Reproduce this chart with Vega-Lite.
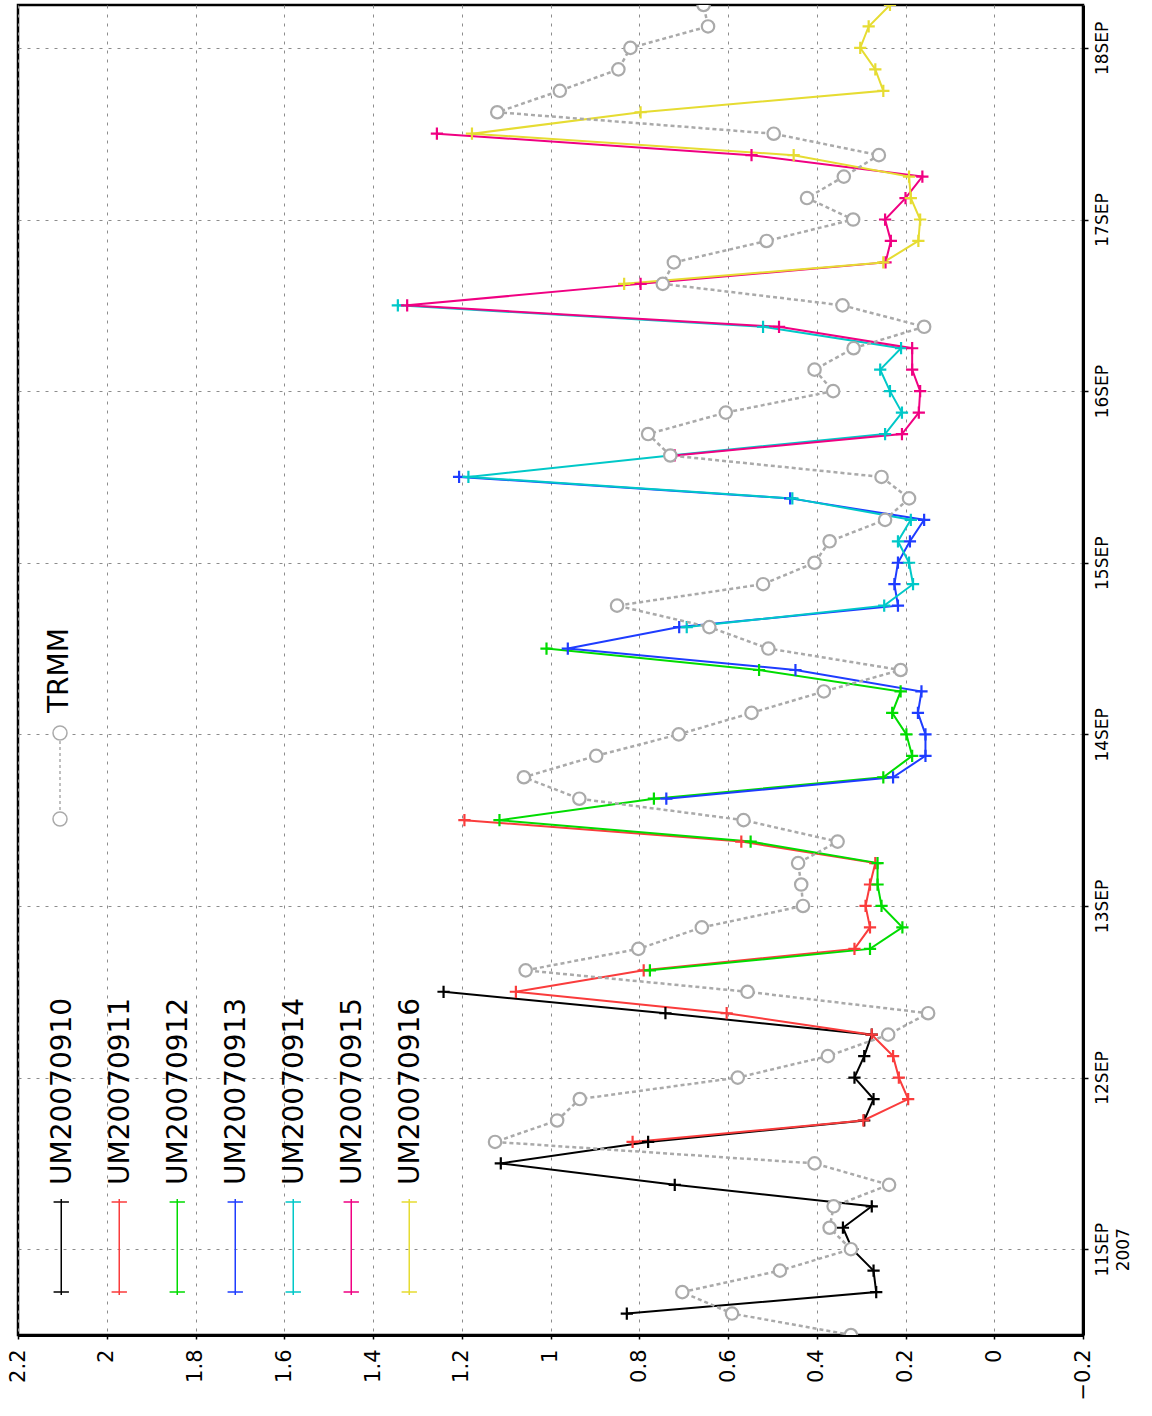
{
  "$schema": "https://vega.github.io/schema/vega-lite/v6.json",
  "width": 1065,
  "height": 1330,
  "autosize": {"type": "none"},
  "padding": {"left": 18, "top": 5, "right": 69, "bottom": 81},
  "background": "white",
  "datasets": {
    "um": [
      {"s":"UM20070910","t":"2007-09-10T15:00Z","v":0.828},
      {"s":"UM20070910","t":"2007-09-10T18:00Z","v":0.266},
      {"s":"UM20070910","t":"2007-09-10T21:00Z","v":0.272},
      {"s":"UM20070910","t":"2007-09-11T00:00Z","v":0.32},
      {"s":"UM20070910","t":"2007-09-11T03:00Z","v":0.341},
      {"s":"UM20070910","t":"2007-09-11T06:00Z","v":0.276},
      {"s":"UM20070910","t":"2007-09-11T09:00Z","v":0.72},
      {"s":"UM20070910","t":"2007-09-11T12:00Z","v":1.112},
      {"s":"UM20070910","t":"2007-09-11T15:00Z","v":0.78},
      {"s":"UM20070910","t":"2007-09-11T18:00Z","v":0.293},
      {"s":"UM20070910","t":"2007-09-11T21:00Z","v":0.272},
      {"s":"UM20070910","t":"2007-09-12T00:00Z","v":0.315},
      {"s":"UM20070910","t":"2007-09-12T03:00Z","v":0.293},
      {"s":"UM20070910","t":"2007-09-12T06:00Z","v":0.276},
      {"s":"UM20070910","t":"2007-09-12T09:00Z","v":0.741},
      {"s":"UM20070910","t":"2007-09-12T12:00Z","v":1.241},
      {"s":"UM20070911","t":"2007-09-11T15:00Z","v":0.815},
      {"s":"UM20070911","t":"2007-09-11T18:00Z","v":0.295},
      {"s":"UM20070911","t":"2007-09-11T21:00Z","v":0.194},
      {"s":"UM20070911","t":"2007-09-12T00:00Z","v":0.215},
      {"s":"UM20070911","t":"2007-09-12T03:00Z","v":0.228},
      {"s":"UM20070911","t":"2007-09-12T06:00Z","v":0.276},
      {"s":"UM20070911","t":"2007-09-12T09:00Z","v":0.603},
      {"s":"UM20070911","t":"2007-09-12T12:00Z","v":1.078},
      {"s":"UM20070911","t":"2007-09-12T15:00Z","v":0.79},
      {"s":"UM20070911","t":"2007-09-12T18:00Z","v":0.315},
      {"s":"UM20070911","t":"2007-09-12T21:00Z","v":0.28},
      {"s":"UM20070911","t":"2007-09-13T00:00Z","v":0.29},
      {"s":"UM20070911","t":"2007-09-13T03:00Z","v":0.28},
      {"s":"UM20070911","t":"2007-09-13T06:00Z","v":0.268},
      {"s":"UM20070911","t":"2007-09-13T09:00Z","v":0.57},
      {"s":"UM20070911","t":"2007-09-13T12:00Z","v":1.194},
      {"s":"UM20070912","t":"2007-09-12T15:00Z","v":0.776},
      {"s":"UM20070912","t":"2007-09-12T18:00Z","v":0.28},
      {"s":"UM20070912","t":"2007-09-12T21:00Z","v":0.207},
      {"s":"UM20070912","t":"2007-09-13T00:00Z","v":0.254},
      {"s":"UM20070912","t":"2007-09-13T03:00Z","v":0.263},
      {"s":"UM20070912","t":"2007-09-13T06:00Z","v":0.263},
      {"s":"UM20070912","t":"2007-09-13T09:00Z","v":0.549},
      {"s":"UM20070912","t":"2007-09-13T12:00Z","v":1.115},
      {"s":"UM20070912","t":"2007-09-13T15:00Z","v":0.767},
      {"s":"UM20070912","t":"2007-09-13T18:00Z","v":0.25},
      {"s":"UM20070912","t":"2007-09-13T21:00Z","v":0.185},
      {"s":"UM20070912","t":"2007-09-14T00:00Z","v":0.198},
      {"s":"UM20070912","t":"2007-09-14T03:00Z","v":0.23},
      {"s":"UM20070912","t":"2007-09-14T06:00Z","v":0.211},
      {"s":"UM20070912","t":"2007-09-14T09:00Z","v":0.53},
      {"s":"UM20070912","t":"2007-09-14T12:00Z","v":1.009},
      {"s":"UM20070913","t":"2007-09-13T15:00Z","v":0.739},
      {"s":"UM20070913","t":"2007-09-13T18:00Z","v":0.228},
      {"s":"UM20070913","t":"2007-09-13T21:00Z","v":0.155},
      {"s":"UM20070913","t":"2007-09-14T00:00Z","v":0.155},
      {"s":"UM20070913","t":"2007-09-14T03:00Z","v":0.172},
      {"s":"UM20070913","t":"2007-09-14T06:00Z","v":0.164},
      {"s":"UM20070913","t":"2007-09-14T09:00Z","v":0.448},
      {"s":"UM20070913","t":"2007-09-14T12:00Z","v":0.961},
      {"s":"UM20070913","t":"2007-09-14T15:00Z","v":0.71},
      {"s":"UM20070913","t":"2007-09-14T18:00Z","v":0.217},
      {"s":"UM20070913","t":"2007-09-14T21:00Z","v":0.225},
      {"s":"UM20070913","t":"2007-09-15T00:00Z","v":0.217},
      {"s":"UM20070913","t":"2007-09-15T03:00Z","v":0.19},
      {"s":"UM20070913","t":"2007-09-15T06:00Z","v":0.158},
      {"s":"UM20070913","t":"2007-09-15T09:00Z","v":0.46},
      {"s":"UM20070913","t":"2007-09-15T12:00Z","v":1.206},
      {"s":"UM20070914","t":"2007-09-14T15:00Z","v":0.693},
      {"s":"UM20070914","t":"2007-09-14T18:00Z","v":0.248},
      {"s":"UM20070914","t":"2007-09-14T21:00Z","v":0.183},
      {"s":"UM20070914","t":"2007-09-15T00:00Z","v":0.192},
      {"s":"UM20070914","t":"2007-09-15T03:00Z","v":0.217},
      {"s":"UM20070914","t":"2007-09-15T06:00Z","v":0.188},
      {"s":"UM20070914","t":"2007-09-15T09:00Z","v":0.455},
      {"s":"UM20070914","t":"2007-09-15T12:00Z","v":1.185},
      {"s":"UM20070914","t":"2007-09-15T15:00Z","v":0.73},
      {"s":"UM20070914","t":"2007-09-15T18:00Z","v":0.246},
      {"s":"UM20070914","t":"2007-09-15T21:00Z","v":0.208},
      {"s":"UM20070914","t":"2007-09-16T00:00Z","v":0.235},
      {"s":"UM20070914","t":"2007-09-16T03:00Z","v":0.257},
      {"s":"UM20070914","t":"2007-09-16T06:00Z","v":0.21},
      {"s":"UM20070914","t":"2007-09-16T09:00Z","v":0.521},
      {"s":"UM20070914","t":"2007-09-16T12:00Z","v":1.344},
      {"s":"UM20070915","t":"2007-09-15T15:00Z","v":0.72},
      {"s":"UM20070915","t":"2007-09-15T18:00Z","v":0.208},
      {"s":"UM20070915","t":"2007-09-15T21:00Z","v":0.17},
      {"s":"UM20070915","t":"2007-09-16T00:00Z","v":0.167},
      {"s":"UM20070915","t":"2007-09-16T03:00Z","v":0.185},
      {"s":"UM20070915","t":"2007-09-16T06:00Z","v":0.185},
      {"s":"UM20070915","t":"2007-09-16T09:00Z","v":0.485},
      {"s":"UM20070915","t":"2007-09-16T12:00Z","v":1.323},
      {"s":"UM20070915","t":"2007-09-16T15:00Z","v":0.797},
      {"s":"UM20070915","t":"2007-09-16T18:00Z","v":0.245},
      {"s":"UM20070915","t":"2007-09-16T21:00Z","v":0.233},
      {"s":"UM20070915","t":"2007-09-17T00:00Z","v":0.246},
      {"s":"UM20070915","t":"2007-09-17T03:00Z","v":0.2},
      {"s":"UM20070915","t":"2007-09-17T06:00Z","v":0.162},
      {"s":"UM20070915","t":"2007-09-17T09:00Z","v":0.547},
      {"s":"UM20070915","t":"2007-09-17T12:00Z","v":1.256},
      {"s":"UM20070916","t":"2007-09-16T15:00Z","v":0.834},
      {"s":"UM20070916","t":"2007-09-16T18:00Z","v":0.25},
      {"s":"UM20070916","t":"2007-09-16T21:00Z","v":0.171},
      {"s":"UM20070916","t":"2007-09-17T00:00Z","v":0.167},
      {"s":"UM20070916","t":"2007-09-17T03:00Z","v":0.188},
      {"s":"UM20070916","t":"2007-09-17T06:00Z","v":0.192},
      {"s":"UM20070916","t":"2007-09-17T09:00Z","v":0.452},
      {"s":"UM20070916","t":"2007-09-17T12:00Z","v":1.177},
      {"s":"UM20070916","t":"2007-09-17T15:00Z","v":0.797},
      {"s":"UM20070916","t":"2007-09-17T18:00Z","v":0.25},
      {"s":"UM20070916","t":"2007-09-17T21:00Z","v":0.268},
      {"s":"UM20070916","t":"2007-09-18T00:00Z","v":0.302},
      {"s":"UM20070916","t":"2007-09-18T03:00Z","v":0.283},
      {"s":"UM20070916","t":"2007-09-18T06:00Z","v":0.235}
    ],
    "trmm": [
      {"s":"TRMM","t":"2007-09-10T12:00Z","v":0.323},
      {"s":"TRMM","t":"2007-09-10T15:00Z","v":0.591},
      {"s":"TRMM","t":"2007-09-10T18:00Z","v":0.703},
      {"s":"TRMM","t":"2007-09-10T21:00Z","v":0.483},
      {"s":"TRMM","t":"2007-09-11T00:00Z","v":0.323},
      {"s":"TRMM","t":"2007-09-11T03:00Z","v":0.371},
      {"s":"TRMM","t":"2007-09-11T06:00Z","v":0.362},
      {"s":"TRMM","t":"2007-09-11T09:00Z","v":0.237},
      {"s":"TRMM","t":"2007-09-11T12:00Z","v":0.405},
      {"s":"TRMM","t":"2007-09-11T15:00Z","v":1.125},
      {"s":"TRMM","t":"2007-09-11T18:00Z","v":0.985},
      {"s":"TRMM","t":"2007-09-11T21:00Z","v":0.934},
      {"s":"TRMM","t":"2007-09-12T00:00Z","v":0.578},
      {"s":"TRMM","t":"2007-09-12T03:00Z","v":0.375},
      {"s":"TRMM","t":"2007-09-12T06:00Z","v":0.239},
      {"s":"TRMM","t":"2007-09-12T09:00Z","v":0.149},
      {"s":"TRMM","t":"2007-09-12T12:00Z","v":0.556},
      {"s":"TRMM","t":"2007-09-12T15:00Z","v":1.056},
      {"s":"TRMM","t":"2007-09-12T18:00Z","v":0.802},
      {"s":"TRMM","t":"2007-09-12T21:00Z","v":0.659},
      {"s":"TRMM","t":"2007-09-13T00:00Z","v":0.431},
      {"s":"TRMM","t":"2007-09-13T03:00Z","v":0.435},
      {"s":"TRMM","t":"2007-09-13T06:00Z","v":0.442},
      {"s":"TRMM","t":"2007-09-13T09:00Z","v":0.353},
      {"s":"TRMM","t":"2007-09-13T12:00Z","v":0.565},
      {"s":"TRMM","t":"2007-09-13T15:00Z","v":0.935},
      {"s":"TRMM","t":"2007-09-13T18:00Z","v":1.06},
      {"s":"TRMM","t":"2007-09-13T21:00Z","v":0.897},
      {"s":"TRMM","t":"2007-09-14T00:00Z","v":0.711},
      {"s":"TRMM","t":"2007-09-14T03:00Z","v":0.547},
      {"s":"TRMM","t":"2007-09-14T06:00Z","v":0.384},
      {"s":"TRMM","t":"2007-09-14T09:00Z","v":0.211},
      {"s":"TRMM","t":"2007-09-14T12:00Z","v":0.509},
      {"s":"TRMM","t":"2007-09-14T15:00Z","v":0.642},
      {"s":"TRMM","t":"2007-09-14T18:00Z","v":0.85},
      {"s":"TRMM","t":"2007-09-14T21:00Z","v":0.521},
      {"s":"TRMM","t":"2007-09-15T00:00Z","v":0.405},
      {"s":"TRMM","t":"2007-09-15T03:00Z","v":0.371},
      {"s":"TRMM","t":"2007-09-15T06:00Z","v":0.246},
      {"s":"TRMM","t":"2007-09-15T09:00Z","v":0.192},
      {"s":"TRMM","t":"2007-09-15T12:00Z","v":0.254},
      {"s":"TRMM","t":"2007-09-15T15:00Z","v":0.73},
      {"s":"TRMM","t":"2007-09-15T18:00Z","v":0.78},
      {"s":"TRMM","t":"2007-09-15T21:00Z","v":0.605},
      {"s":"TRMM","t":"2007-09-16T00:00Z","v":0.363},
      {"s":"TRMM","t":"2007-09-16T03:00Z","v":0.405},
      {"s":"TRMM","t":"2007-09-16T06:00Z","v":0.317},
      {"s":"TRMM","t":"2007-09-16T09:00Z","v":0.158},
      {"s":"TRMM","t":"2007-09-16T12:00Z","v":0.342},
      {"s":"TRMM","t":"2007-09-16T15:00Z","v":0.747},
      {"s":"TRMM","t":"2007-09-16T18:00Z","v":0.722},
      {"s":"TRMM","t":"2007-09-16T21:00Z","v":0.513},
      {"s":"TRMM","t":"2007-09-17T00:00Z","v":0.318},
      {"s":"TRMM","t":"2007-09-17T03:00Z","v":0.422},
      {"s":"TRMM","t":"2007-09-17T06:00Z","v":0.339},
      {"s":"TRMM","t":"2007-09-17T09:00Z","v":0.26},
      {"s":"TRMM","t":"2007-09-17T12:00Z","v":0.497},
      {"s":"TRMM","t":"2007-09-17T15:00Z","v":1.12},
      {"s":"TRMM","t":"2007-09-17T18:00Z","v":0.979},
      {"s":"TRMM","t":"2007-09-17T21:00Z","v":0.847},
      {"s":"TRMM","t":"2007-09-18T00:00Z","v":0.82},
      {"s":"TRMM","t":"2007-09-18T03:00Z","v":0.645},
      {"s":"TRMM","t":"2007-09-18T06:00Z","v":0.655}
    ]
  },
  "encoding": {
    "x": {
      "field": "v", "type": "quantitative",
      "scale": {"domain": [-0.2, 2.2], "reverse": true, "nice": false, "zero": false},
      "axis": {
        "orient": "bottom", "title": null,
        "values": [-0.2, 0, 0.2, 0.4, 0.6, 0.8, 1, 1.2, 1.4, 1.6, 1.8, 2, 2.2],
        "format": ".1~f",
        "labelAngle": 270, "labelAlign": "right", "labelBaseline": "middle",
        "labelFontSize": 21, "labelPadding": 10, "tickSize": 4,
        "grid": true, "labelOverlap": false, "labelFlush": false, "labelBound": false
      }
    },
    "y": {
      "field": "t", "type": "temporal",
      "scale": {"type": "utc", "domain": [
        {"year": 2007, "month": 9, "date": 10, "hours": 12, "utc": true},
        {"year": 2007, "month": 9, "date": 18, "hours": 6, "utc": true}
      ]},
      "axis": {
        "orient": "right", "title": null,
        "values": [
          {"year": 2007, "month": 9, "date": 11, "utc": true},
          {"year": 2007, "month": 9, "date": 12, "utc": true},
          {"year": 2007, "month": 9, "date": 13, "utc": true},
          {"year": 2007, "month": 9, "date": 14, "utc": true},
          {"year": 2007, "month": 9, "date": 15, "utc": true},
          {"year": 2007, "month": 9, "date": 16, "utc": true},
          {"year": 2007, "month": 9, "date": 17, "utc": true},
          {"year": 2007, "month": 9, "date": 18, "utc": true}
        ],
        "labelExpr": "utcdate(datum.value) == 11 ? ['11SEP', '2007'] : utcdate(datum.value) + 'SEP'",
        "labelAngle": 270, "labelAlign": "center", "labelBaseline": "top",
        "labelFontSize": 17, "labelLineHeight": 21, "labelPadding": 6, "tickSize": 5,
        "grid": true, "labelOverlap": false, "labelFlush": false, "labelBound": false
      }
    },
    "order": {"field": "t", "type": "temporal"}
  },
  "layer": [
    {
      "data": {"name": "um"},
      "mark": {
        "type": "line", "strokeWidth": 2, "clip": true,
        "point": {"shape": "M-1,0L1,0M0,-1L0,1", "filled": false, "size": 150, "strokeWidth": 2.2, "clip": true}
      },
      "encoding": {
        "color": {
          "field": "s", "type": "nominal",
          "scale": {
            "domain": ["UM20070910", "UM20070911", "UM20070912", "UM20070913", "UM20070914", "UM20070915", "UM20070916"],
            "range": ["#000000", "#fa3c3c", "#00dc00", "#1e3cff", "#00c8c8", "#f00082", "#e6dc32"]
          },
          "legend": {
            "orient": "none", "legendX": 29.25, "legendY": 1228,
            "direction": "horizontal", "title": null, "padding": 0,
            "symbolType": "M0,-4L0,4M-0.64,-3.76L0.64,-3.76M-0.64,3.76L0.64,3.76",
            "symbolSize": 576, "symbolStrokeWidth": 1.5, "symbolOffset": 0,
            "labelFont": "DejaVu Sans", "labelFontSize": 28, "labelLimit": 600, "labelOffset": 0,
            "labelColor": "black", "columnPadding": 28,
            "encode": {
              "labels": {"update": {
                "angle": {"value": -90}, "dx": {"value": 62}, "dy": {"value": -12.75},
                "align": {"value": "left"}, "baseline": {"value": "middle"}
              }}
            }
          }
        }
      }
    },
    {
      "data": {"name": "trmm"},
      "mark": {
        "type": "line", "stroke": "#aaaaaa", "strokeWidth": 2.5, "strokeDash": [4, 3], "clip": true,
        "point": {"shape": "circle", "filled": true, "fill": "white", "stroke": "#aaaaaa", "strokeWidth": 2.2, "size": 154, "clip": true}
      },
      "encoding": {
        "opacity": {
          "field": "s", "type": "nominal",
          "scale": {"domain": ["TRMM"], "range": [1]},
          "legend": {
            "orient": "none", "legendX": -9, "legendY": 720, "title": null, "padding": 0,
            "symbolType": "M0.14,-0.86A0.14,0.14 0 1 1 -0.14,-0.86A0.14,0.14 0 1 1 0.14,-0.86M0.14,0.86A0.14,0.14 0 1 1 -0.14,0.86A0.14,0.14 0 1 1 0.14,0.86M0,-0.7L0,-0.64M0,-0.58L0,-0.52M0,-0.46L0,-0.4M0,-0.34L0,-0.28M0,-0.22L0,-0.16M0,-0.1L0,-0.04M0,0.02L0,0.08M0,0.14L0,0.2M0,0.26L0,0.32M0,0.38L0,0.44M0,0.5L0,0.56M0,0.62L0,0.68",
            "symbolSize": 10000, "symbolStrokeWidth": 1.5, "symbolStrokeColor": "#aaaaaa", "symbolFillColor": "white", "symbolOffset": 0,
            "labelFont": "DejaVu Sans", "labelFontSize": 28, "labelLimit": 600, "labelOffset": 0, "labelColor": "black",
            "encode": {
              "labels": {"update": {
                "angle": {"value": -90}, "dx": {"value": 63}, "dy": {"value": -50.75},
                "align": {"value": "left"}, "baseline": {"value": "middle"}
              }}
            }
          }
        }
      }
    }
  ],
  "config": {
    "font": "DejaVu Sans",
    "view": {"stroke": "black", "strokeWidth": 2.5},
    "axis": {
      "domainColor": "black", "domainWidth": 3, "tickColor": "black", "tickWidth": 1.5,
      "gridColor": "#8c8c8c", "gridDash": [3, 6], "gridWidth": 1,
      "labelFont": "DejaVu Sans", "labelColor": "black"
    }
  }
}
